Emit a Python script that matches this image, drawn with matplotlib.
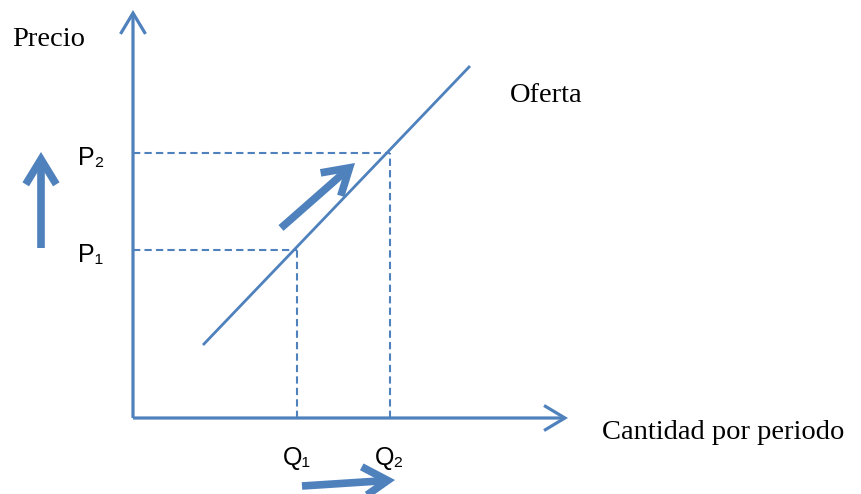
import matplotlib
matplotlib.use("Agg")
import matplotlib.pyplot as plt
from matplotlib.patches import FancyArrowPatch

# Data (chart units: origin at the axes corner)
supply_x = [70, 337]
supply_y = [73, 352]
prices = [168, 265]          # P1, P2
quantities = [164, 257]      # Q1, Q2
price_labels = ["P\u2081", "P\u2082"]
qty_labels = ["Q\u2081", "Q\u2082"]
y_axis_top = 408
x_axis_right = 435

BLUE = "#4F81BD"
SERIF = ["Liberation Serif", "DejaVu Serif"]
SANS = ["Liberation Sans", "DejaVu Sans"]

fig = plt.figure(figsize=(8.62, 4.94), dpi=100)
ax = fig.add_axes([0, 0, 1, 1])
ax.set_xlim(-133, 729)
ax.set_ylim(-76, 418)
ax.axis("off")

def arrow(p0, p1, lw, ms, hl, hw, z=3):
    a = FancyArrowPatch(p0, p1, arrowstyle=f"->,head_length={hl},head_width={hw}",
                        mutation_scale=ms, lw=lw, color=BLUE, capstyle="butt",
                        joinstyle="miter", shrinkA=0, shrinkB=0, zorder=z)
    ax.add_patch(a)

# Axes
arrow((0, 0), (0, y_axis_top), 2.3, 20, 0.75, 0.45)
arrow((0, 0), (x_axis_right, 0), 2.3, 20, 0.75, 0.45)

# Supply line
ax.plot(supply_x, supply_y, color=BLUE, lw=2.0, solid_capstyle="butt", zorder=2)

# Dashed guides
for q, p in zip(quantities, prices):
    ax.plot([0, q], [p, p], color=BLUE, lw=1.5, ls=(0, (3.5, 2)), zorder=1)
    ax.plot([q, q], [0, p], color=BLUE, lw=1.5, ls=(0, (3.5, 2)), zorder=1)

# Labels
ax.text(-121, 378, "Precio", fontsize=20.5, family=SERIF, ha="left", va="center")
ax.text(377, 323, "Oferta", fontsize=20.5, family=SERIF, ha="left", va="center")
ax.text(469, -14, "Cantidad por periodo", fontsize=20.5, family=SERIF, ha="left", va="center")
for lab, p in zip(price_labels, prices):
    ax.text(-55, p - 5, lab, fontsize=18, family=SANS, ha="left", va="center")
for lab, q in zip(qty_labels, quantities):
    ax.text(q, -40, lab, fontsize=18, family=SANS, ha="center", va="center")

# Movement arrows
arrow((-92, 170), (-92, 266), 5.5, 20, 0.9, 0.55)
arrow((148, 190), (222, 255), 5.5, 20, 0.9, 0.55)
arrow((169, -68), (262, -62), 5.5, 20, 0.9, 0.55)

fig.savefig("out.png", dpi=100)
